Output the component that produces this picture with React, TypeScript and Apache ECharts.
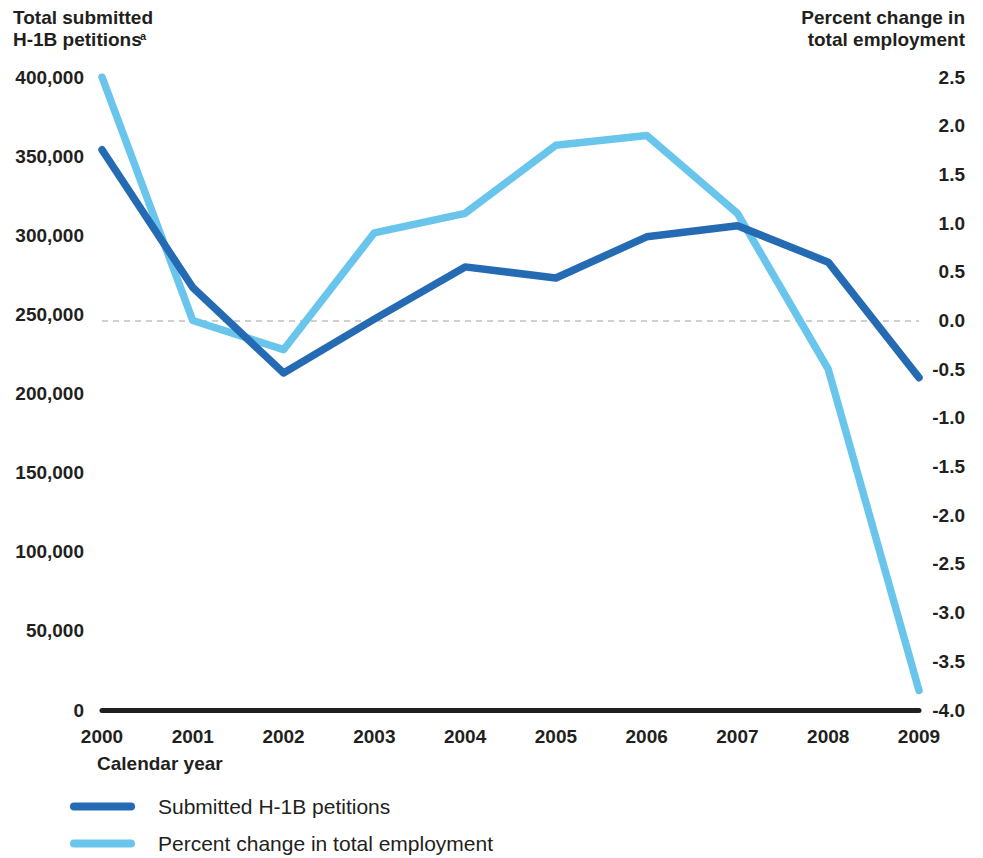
import React, { useEffect, useRef } from "react";
import * as echarts from "echarts";

const years = ["2000", "2001", "2002", "2003", "2004", "2005", "2006", "2007", "2008", "2009"];
const petitions = [354000, 267000, 213000, 247000, 280000, 273000, 299000, 306000, 283000, 210000];
const employmentChange = [2.5, 0.0, -0.3, 0.9, 1.1, 1.8, 1.9, 1.1, -0.5, -3.8];
const seriesNames = ["Submitted H-1B petitions", "Percent change in total employment"];
const leftTitle = ["Total submitted", "H-1B petitions"];
const rightTitle = ["Percent change in", "total employment"];
const xTitle = "Calendar year";

const DARK = "#246bb4";
const LIGHT = "#69c5ec";
const TEXT = "#231f20";
const FONT = "'Liberation Sans', Arial, Helvetica, sans-serif";
const FS = 19;

export default function App() {
  const ref = useRef<HTMLDivElement>(null);
  useEffect(() => {
    document.body.style.margin = "0";
    const chart = echarts.init(ref.current!, null, { renderer: "svg" });
    const pill = "path://M4,0 H61 A4,4 0 0 1 61,8 H4 A4,4 0 0 1 4,0 Z";
    chart.setOption({
      animation: false,
      textStyle: { fontFamily: FONT, color: TEXT },
      grid: { left: 102, right: 64, top: 77, bottom: 148, containLabel: false },
      legend: {
        orient: "vertical",
        left: 70,
        top: 796,
        height: 120,
        padding: 0,
        itemWidth: 65,
        itemHeight: 8,
        itemGap: 16,
        icon: pill,
        data: seriesNames,
        textStyle: { fontSize: 21, color: TEXT, fontFamily: FONT, padding: [0, 0, 0, 18] },
      },
      xAxis: {
        type: "category",
        data: years,
        boundaryGap: false,
        axisLine: { show: true, lineStyle: { color: TEXT, width: 5 } },
        axisTick: { show: false },
        axisLabel: { fontSize: FS, fontWeight: "bold", color: TEXT, margin: 17, fontFamily: FONT },
        splitLine: { show: false },
      },
      yAxis: [
        {
          type: "value",
          min: 0,
          max: 400000,
          interval: 50000,
          axisLine: { show: false },
          axisTick: { show: false },
          splitLine: { show: false },
          axisLabel: {
            fontSize: FS,
            fontWeight: "bold",
            color: TEXT,
            margin: 18,
            fontFamily: FONT,
            formatter: (v: number) => v.toLocaleString("en-US"),
          },
        },
        {
          type: "value",
          position: "right",
          min: -4,
          max: 2.5,
          interval: 0.5,
          axisLine: { show: false },
          axisTick: { show: false },
          splitLine: { show: false },
          axisLabel: {
            fontSize: FS,
            fontWeight: "bold",
            color: TEXT,
            margin: 46,
            align: "right",
            fontFamily: FONT,
            formatter: (v: number) => v.toFixed(1),
          },
        },
      ],
      series: [
        {
          name: seriesNames[0],
          type: "line",
          data: petitions,
          yAxisIndex: 0,
          z: 4,
          showSymbol: false,
          symbol: "none",
          lineStyle: { color: DARK, width: 7.5, cap: "round", join: "round" },
          itemStyle: { color: DARK },
        },
        {
          name: seriesNames[1],
          type: "line",
          data: employmentChange,
          yAxisIndex: 1,
          z: 3,
          showSymbol: false,
          symbol: "none",
          lineStyle: { color: LIGHT, width: 7.5, cap: "round", join: "round" },
          itemStyle: { color: LIGHT },
          markLine: {
            silent: true,
            symbol: "none",
            label: { show: false },
            lineStyle: { color: "#cfcfcf", type: [6, 5], width: 2 },
            data: [{ yAxis: 0 }],
            z: 1,
          },
        },
      ],
      graphic: [
        {
          type: "text",
          x: 13,
          y: 6,
          style: {
            text: leftTitle.join("\n"),
            fontSize: FS,
            fontWeight: "bold",
            lineHeight: 22,
            fill: TEXT,
            fontFamily: FONT,
            verticalAlign: "top",
          },
        },
        {
          type: "text",
          x: 140,
          y: 30,
          style: { text: "a", fontSize: 11, fontWeight: "bold", fill: TEXT, fontFamily: FONT, verticalAlign: "top" },
        },
        {
          type: "text",
          x: 965,
          y: 6,
          style: {
            text: rightTitle.join("\n"),
            fontSize: FS,
            fontWeight: "bold",
            lineHeight: 22,
            fill: TEXT,
            align: "right",
            verticalAlign: "top",
            fontFamily: FONT,
          },
        },
        {
          type: "text",
          x: 97,
          y: 754,
          style: { text: xTitle, fontSize: FS, fontWeight: "bold", fill: TEXT, fontFamily: FONT, verticalAlign: "top" },
        },
      ],
    });
    return () => chart.dispose();
  }, []);
  return <div ref={ref} style={{ width: 983, height: 858 }} />;
}
